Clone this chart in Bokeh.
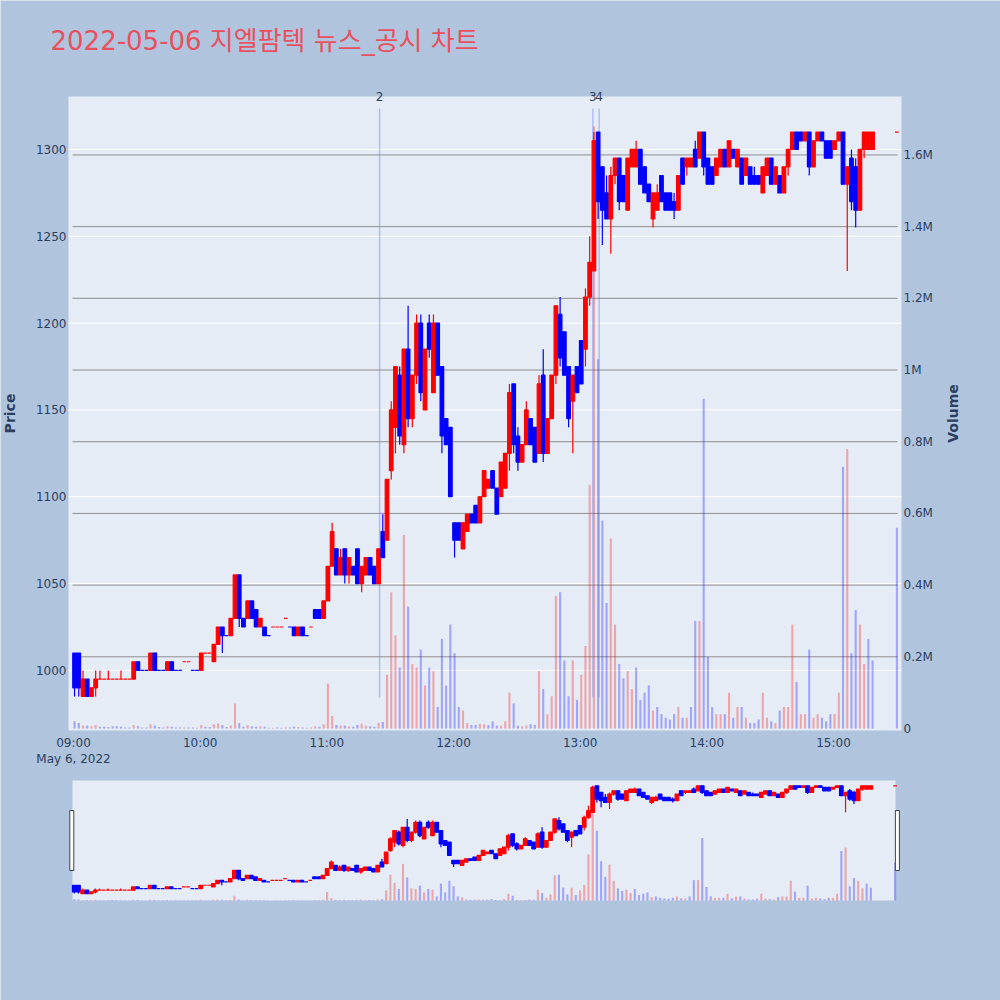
import math
from bokeh.plotting import figure
from bokeh.models import Range1d, Label, ColumnDataSource
from bokeh.embed import file_html
from bokeh.resources import INLINE

TITLE = "2022-05-06 지엘팜텍 뉴스_공시 차트"

# 2-minute candles from 09:00 to 15:18, plus the 15:30 closing auction
times = [f"{9 + m // 60:02d}:{m % 60:02d}" for m in range(0, 380, 2)] + ["15:30"]

opens = [
    1010, 1010, 985, 995, 985, 990, 995, 995, 995, 995,
    995, 995, 995, 995, 995, 1005, 1000, 1000, 1000, 1010,
    1000, 1000, 1000, 1005, 1000, 1000, 1005, 1005, 1000, 1000,
    1000, 1010, 1010, 1005, 1015, 1025, 1020, 1020, 1030, 1055,
    1030, 1030, 1040, 1035, 1025, 1025, 1020, 1025, 1025, 1025,
    1030, 1025, 1025, 1020, 1025, 1020, 1025, 1035, 1035, 1030,
    1040, 1060, 1070, 1055, 1070, 1055, 1060, 1070, 1050, 1055,
    1065, 1060, 1050, 1080, 1075, 1115, 1140, 1170, 1130, 1185,
    1145, 1170, 1200, 1150, 1200, 1160, 1200, 1175, 1145, 1140,
    1085, 1085, 1070, 1080, 1090, 1095, 1085, 1100, 1105, 1115,
    1105, 1100, 1105, 1125, 1165, 1135, 1120, 1130, 1145, 1140,
    1125, 1170, 1125, 1145, 1170, 1205, 1195, 1175, 1155, 1175,
    1190, 1185, 1215, 1230, 1310, 1290, 1275, 1260, 1285, 1295,
    1285, 1265, 1290, 1290, 1300, 1290, 1280, 1260, 1265, 1285,
    1275, 1275, 1270, 1265, 1295, 1290, 1290, 1300, 1295, 1310,
    1295, 1290, 1285, 1290, 1300, 1290, 1300, 1290, 1295, 1285,
    1290, 1285, 1285, 1275, 1285, 1295, 1280, 1285, 1275, 1290,
    1300, 1310, 1310, 1305, 1310, 1290, 1305, 1310, 1305, 1305,
    1300, 1305, 1310, 1280, 1295, 1290, 1265, 1300, 1300, 1300,
    1310,
]
highs = [
    1010, 1010, 1000, 995, 990, 1000, 1000, 995, 1000, 995,
    995, 1000, 995, 995, 1005, 1005, 1000, 1000, 1010, 1010,
    1000, 1000, 1005, 1005, 1000, 1000, 1005, 1005, 1000, 1000,
    1010, 1010, 1010, 1015, 1025, 1025, 1020, 1030, 1055, 1055,
    1030, 1040, 1040, 1035, 1030, 1025, 1020, 1025, 1025, 1025,
    1030, 1025, 1025, 1025, 1025, 1020, 1025, 1035, 1035, 1040,
    1060, 1085, 1070, 1070, 1070, 1065, 1060, 1070, 1060, 1065,
    1065, 1060, 1070, 1090, 1110, 1155, 1175, 1175, 1185, 1210,
    1170, 1205, 1205, 1185, 1205, 1205, 1200, 1175, 1145, 1140,
    1085, 1085, 1085, 1090, 1090, 1095, 1100, 1115, 1110, 1115,
    1105, 1120, 1125, 1165, 1165, 1140, 1130, 1155, 1145, 1140,
    1170, 1185, 1145, 1170, 1210, 1215, 1195, 1175, 1170, 1175,
    1190, 1220, 1250, 1310, 1310, 1290, 1285, 1290, 1295, 1295,
    1285, 1295, 1300, 1305, 1300, 1290, 1280, 1275, 1280, 1285,
    1275, 1275, 1275, 1285, 1295, 1295, 1295, 1305, 1310, 1310,
    1295, 1290, 1295, 1300, 1300, 1305, 1300, 1300, 1295, 1295,
    1290, 1290, 1285, 1290, 1295, 1295, 1290, 1285, 1290, 1300,
    1310, 1310, 1310, 1310, 1310, 1305, 1310, 1310, 1305, 1305,
    1305, 1310, 1310, 1290, 1300, 1295, 1300, 1310, 1310, 1310,
    1310,
]
lows = [
    985, 985, 985, 985, 985, 985, 995, 995, 995, 995,
    995, 995, 995, 995, 995, 1000, 1000, 1000, 1000, 1000,
    1000, 1000, 1000, 1000, 1000, 1000, 1005, 1005, 1000, 1000,
    1000, 1010, 1010, 1005, 1015, 1010, 1020, 1020, 1030, 1025,
    1025, 1030, 1030, 1025, 1025, 1020, 1020, 1025, 1025, 1025,
    1030, 1025, 1020, 1020, 1020, 1020, 1025, 1030, 1030, 1030,
    1040, 1060, 1055, 1055, 1050, 1050, 1055, 1050, 1045, 1055,
    1055, 1050, 1050, 1065, 1075, 1110, 1125, 1130, 1125, 1140,
    1140, 1165, 1155, 1150, 1180, 1160, 1170, 1125, 1130, 1100,
    1065, 1075, 1070, 1080, 1085, 1085, 1085, 1100, 1105, 1105,
    1090, 1100, 1105, 1115, 1125, 1115, 1120, 1130, 1130, 1120,
    1125, 1120, 1125, 1145, 1165, 1175, 1170, 1140, 1125, 1160,
    1165, 1175, 1210, 1230, 1260, 1245, 1260, 1240, 1280, 1265,
    1270, 1265, 1290, 1290, 1280, 1275, 1270, 1255, 1265, 1270,
    1265, 1265, 1260, 1265, 1280, 1285, 1290, 1290, 1295, 1285,
    1280, 1280, 1285, 1290, 1290, 1290, 1295, 1290, 1280, 1285,
    1280, 1280, 1280, 1275, 1285, 1280, 1280, 1275, 1275, 1285,
    1300, 1300, 1305, 1305, 1285, 1290, 1305, 1305, 1295, 1295,
    1300, 1305, 1280, 1230, 1265, 1255, 1265, 1295, 1300, 1300,
    1310,
]
closes = [
    990, 990, 995, 985, 990, 995, 995, 995, 995, 995,
    995, 995, 995, 995, 1005, 1000, 1000, 1000, 1010, 1000,
    1000, 1000, 1005, 1000, 1000, 1000, 1005, 1005, 1000, 1000,
    1010, 1010, 1010, 1015, 1025, 1020, 1020, 1030, 1055, 1030,
    1025, 1040, 1030, 1025, 1030, 1020, 1020, 1025, 1025, 1025,
    1030, 1025, 1020, 1025, 1020, 1020, 1025, 1030, 1030, 1040,
    1060, 1080, 1055, 1065, 1055, 1065, 1055, 1050, 1060, 1065,
    1055, 1050, 1070, 1065, 1110, 1150, 1175, 1135, 1185, 1145,
    1170, 1200, 1160, 1185, 1185, 1200, 1170, 1135, 1130, 1100,
    1075, 1075, 1085, 1090, 1085, 1085, 1100, 1115, 1110, 1105,
    1090, 1120, 1125, 1160, 1130, 1120, 1130, 1150, 1130, 1120,
    1165, 1125, 1145, 1170, 1210, 1180, 1170, 1145, 1170, 1160,
    1165, 1215, 1235, 1305, 1270, 1265, 1260, 1285, 1295, 1270,
    1270, 1295, 1300, 1300, 1280, 1275, 1270, 1275, 1275, 1270,
    1265, 1265, 1265, 1285, 1280, 1295, 1295, 1290, 1310, 1290,
    1280, 1280, 1295, 1300, 1290, 1305, 1295, 1300, 1280, 1295,
    1280, 1280, 1280, 1290, 1295, 1280, 1290, 1275, 1290, 1300,
    1310, 1300, 1305, 1310, 1290, 1305, 1310, 1305, 1295, 1295,
    1305, 1310, 1280, 1290, 1270, 1265, 1300, 1310, 1310, 1310,
    1310,
]
volume_k = [
    20, 15, 8, 8, 6, 10, 5, 5, 4, 6,
    6, 5, 3, 3, 10, 6, 3, 3, 12, 8,
    4, 3, 6, 5, 3, 3, 3, 3, 3, 2,
    10, 5, 4, 12, 14, 10, 4, 8, 70, 15,
    5, 10, 6, 5, 6, 5, 2, 2, 3, 2,
    3, 3, 5, 4, 3, 2, 3, 6, 5, 12,
    125, 35, 10, 8, 8, 6, 5, 10, 13, 8,
    6, 5, 16, 18, 150, 380, 260, 170, 540, 340,
    180, 170, 220, 120, 170, 160, 60, 250, 120, 290,
    210, 60, 50, 15, 10, 10, 12, 12, 10, 20,
    8, 8, 20, 100, 70, 8, 6, 8, 12, 10,
    160, 110, 40, 90, 370, 380, 190, 90, 190, 80,
    150, 230, 680, 1680, 1030, 580, 350, 530, 290, 180,
    140, 160, 110, 170, 80, 100, 120, 50, 60, 40,
    30, 25, 40, 60, 30, 30, 60, 300, 300, 920,
    200, 60, 40, 40, 40, 100, 30, 60, 60, 30,
    15, 15, 25, 100, 30, 20, 15, 50, 60, 60,
    290, 130, 40, 40, 220, 30, 40, 30, 20, 40,
    40, 100, 730, 780, 210, 330, 290, 180, 250, 190,
    560,
]

news_times = ["11:25", "13:06", "13:09"]
news_labels = ["2", "3", "4"]

price_ticks = [1000, 1050, 1100, 1150, 1200, 1250, 1300]
volume_ticks = [0, 200000, 400000, 600000, 800000, 1000000, 1200000, 1400000, 1600000]
volume_tick_labels = ["0", "0.2M", "0.4M", "0.6M", "0.8M", "1M", "1.2M", "1.4M", "1.6M"]
hour_ticks = ["09:00", "10:00", "11:00", "12:00", "13:00", "14:00", "15:00"]
date_label = "May 6, 2022"

# ---------------------------------------------------------------- styling / layout
UP, DOWN = "#ff0000", "#0000ff"
PAPER, PLOT_BG = "#b0c4de", "#e5ecf6"
TXT = "#2a3f5f"
FONT = "DejaVu Sans"
TITLE_FONT = "'DejaVu Sans', 'Noto Sans CJK KR', sans-serif"

W = H = 1000
FL, FR, FT = 68, 901, 96                  # main chart area (page pixels)
MAIN_B = 730
SL_L, SL_R, SL_T, SL_B = 72, 895, 780, 900  # range slider area (page pixels)

X_LO, X_HI = -2.37, 392.2
PRICE_LO, PRICE_HI = 965.4, 1330.5
VOL_LO, VOL_HI = -5600, 1763000
SL_X_LO, SL_X_HI = -0.33, 390.2
SP_LO, SP_HI = 964, 1326
SV_HI = 1770000

PXM = (FR - FL) / (X_HI - X_LO)
PPY = (MAIN_B - FT) / (PRICE_HI - PRICE_LO)
VPY = (MAIN_B - FT) / (VOL_HI - VOL_LO)
SPX = (SL_R - SL_L) / (SL_X_HI - SL_X_LO)
SPY = (SL_B - SL_T) / (SP_HI - SP_LO)
SVY = (SL_B - SL_T) / SV_HI


def x_at(px):
    return X_LO + (px - FL) / PXM


def price_at(py):
    return PRICE_LO + (MAIN_B - py) / PPY


def vol_at(py):
    return VOL_LO + (MAIN_B - py) / VPY


def sx_at(px):
    return SL_X_LO + (px - SL_L) / SPX


def sp_at(py):
    return SP_LO + (SL_B - py) / SPY


def sv_at(py):
    return (SL_B - py) / SVY


def minute_of(t):
    h, m = t.split(":")
    return (int(h) - 9) * 60 + int(m)


xs = [minute_of(t) + (0.5 if minute_of(t) < 380 else 0.0) for t in times]

# candle direction (ties decided by previous close)
inc = []
prev_dir = False
for i, (o, c) in enumerate(zip(opens, closes)):
    if c > o:
        d = True
    elif c < o:
        d = False
    elif i > 0 and c != closes[i - 1]:
        d = c > closes[i - 1]
    else:
        d = prev_dir
    inc.append(d)
    prev_dir = d
vol_up = [inc[0]] + [closes[i] > closes[i - 1] for i in range(1, len(closes))]

src = ColumnDataSource(dict(
    x=xs, o=opens, h=highs, l=lows, c=closes,
    top=[max(o, c) for o, c in zip(opens, closes)],
    bottom=[min(o, c) for o, c in zip(opens, closes)],
    color=[UP if d else DOWN for d in inc],
    vol=[v * 1000 for v in volume_k],
    vcolor=[UP if d else DOWN for d in vol_up],
))

# the frame covers the whole canvas; every region is placed through the ranges
p = figure(width=W, height=H, title=None,
           x_range=Range1d(x_at(0), x_at(W)), y_range=Range1d(price_at(H), price_at(0)),
           x_axis_type=None, y_axis_type=None,
           output_backend="svg", toolbar_location=None,
           min_border=0, min_border_left=0, min_border_right=0, min_border_top=0, min_border_bottom=0,
           background_fill_color=PAPER, border_fill_color=PAPER, outline_line_color=None)
p.grid.visible = False
p.extra_y_ranges = {
    "vol": Range1d(vol_at(H), vol_at(0)),
    "sp": Range1d(sp_at(H), sp_at(0)),
    "sv": Range1d(sv_at(H), sv_at(0)),
}
p.extra_x_ranges = {"sl": Range1d(sx_at(0), sx_at(W))}

# backgrounds
p.quad(left=X_LO, right=X_HI, bottom=PRICE_LO, top=PRICE_HI, fill_color=PLOT_BG, line_color=None)
p.quad(left=SL_X_LO, right=SL_X_HI, bottom=SP_LO, top=SP_HI, x_range_name="sl", y_range_name="sp",
       fill_color=PLOT_BG, line_color=None)

# grid lines
p.segment(x0=X_LO, x1=X_HI, y0=price_ticks, y1=price_ticks, line_color="white", line_width=1)
p.segment(x0=x_at(72), x1=x_at(897), y0=volume_ticks[1:], y1=volume_ticks[1:], y_range_name="vol",
          line_color="#8f8f8f", line_width=1)


def text(x, y, s, size="12px", align="center", baseline="middle", bold=False, angle=0.0,
         color=TXT, font=FONT, y_range_name="default"):
    p.add_layout(Label(x=x, y=y, text=s, text_align=align, text_baseline=baseline,
                       text_font=font, text_font_size=size, text_color=color,
                       text_font_style="bold" if bold else "normal", angle=angle,
                       y_range_name=y_range_name))


# title, axis titles, tick labels
text(x_at(50), price_at(40), TITLE, size="26px", align="left", baseline="middle",
     color="#e9505f", font=TITLE_FONT)
text(x_at(9), price_at(413), "Price", size="14px", bold=True, angle=math.pi / 2)
text(x_at(952), price_at(413), "Volume", size="14px", bold=True, angle=math.pi / 2)
for v in price_ticks:
    text(x_at(66), v, str(v), align="right")
for v, lab in zip(volume_ticks, volume_tick_labels):
    text(x_at(903), v, lab, align="left", y_range_name="vol")
for t in hour_ticks:
    text(minute_of(t), price_at(735), t, baseline="top")
text(minute_of(hour_ticks[0]), price_at(751), date_label, baseline="top")

# volume bars
p.vbar(x="x", width=1.0, top="vol", bottom=0, y_range_name="vol", source=src,
       fill_color="vcolor", fill_alpha=0.3, line_color=None)

# news markers
news_x = [minute_of(t) for t in news_times]
p.segment(x0=news_x, x1=news_x,
          y0=[price_at(697)] * len(news_x), y1=[price_at(108)] * len(news_x),
          line_color="#6f82ea", line_alpha=0.45, line_width=1.5)
for nx, lab in zip(news_x, news_labels):
    text(nx, price_at(96), lab)

# candles
p.segment(x0="x", y0="h", x1="x", y1="l", line_color="color", line_width=1.2, source=src)
p.vbar(x="x", width=1.7, top="top", bottom="bottom", fill_color="color", line_color="color",
       line_width=1.2, source=src)

# ---------------------------------------------------------------- range slider (same data)
p.vbar(x="x", width=1.0, top="vol", bottom=0, x_range_name="sl", y_range_name="sv", source=src,
       fill_color="vcolor", fill_alpha=0.3, line_color=None)
p.segment(x0="x", y0="h", x1="x", y1="l", x_range_name="sl", y_range_name="sp",
          line_color="color", line_width=1.2, source=src)
p.vbar(x="x", width=1.7, top="top", bottom="bottom", x_range_name="sl", y_range_name="sp",
       fill_color="color", line_color="color", line_width=1.2, source=src)
p.rect(x=[sx_at(71.3), sx_at(896.9)], y=[sp_at(840)] * 2, width=4, height=60,
       width_units="screen", height_units="screen", x_range_name="sl", y_range_name="sp",
       fill_color="white", line_color="#444444", line_width=1)

open("out.html", "w").write(file_html(p, INLINE))
